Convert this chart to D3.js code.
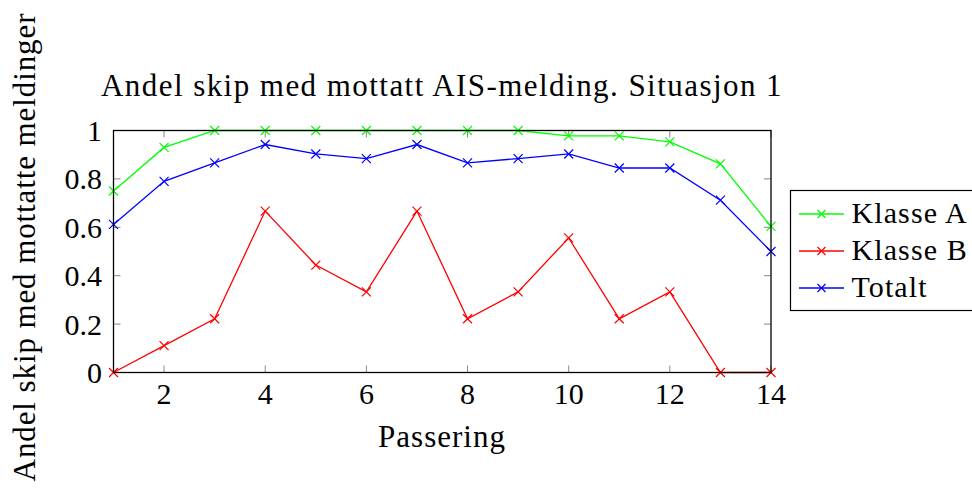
<!DOCTYPE html>
<html>
<head>
<meta charset="utf-8">
<script src="https://cdn.jsdelivr.net/npm/d3@7"></script>
<style>
  html, body { margin: 0; padding: 0; background: #fff; }
  svg { display: block; }
  text { font-family: "Liberation Serif", "DejaVu Serif", serif; fill: #000; }
</style>
</head>
<body>
<svg id="chart" width="972" height="496"></svg>
<script>
// Passering number on the x axis
const passering = [1, 2, 3, 4, 5, 6, 7, 8, 9, 10, 11, 12, 13, 14];
// Share of ships with received AIS message, per class
const klasseA = [0.75, 0.93, 1, 1, 1, 1, 1, 1, 1, 0.978, 0.978, 0.953, 0.862, 0.604];
const klasseB = [0, 0.111, 0.222, 0.667, 0.444, 0.333, 0.667, 0.222, 0.333, 0.556, 0.222, 0.333, 0, 0];
const totalt  = [0.612, 0.79, 0.866, 0.942, 0.903, 0.884, 0.942, 0.866, 0.884, 0.903, 0.845, 0.845, 0.712, 0.5];
const seriesNames = ["Klasse A", "Klasse B", "Totalt"];
const seriesColors = ["#00ff00", "#ff0000", "#0000ff"];
const xTicks = [2, 4, 6, 8, 10, 12, 14];
const yTicks = [0, 0.2, 0.4, 0.6, 0.8, 1];

const svg = d3.select("#chart");
const plot = { left: 113.5, right: 771, top: 130.5, bottom: 372.5 };

const x = d3.scaleLinear().domain([1, 14]).range([plot.left, plot.right]);
const y = d3.scaleLinear().domain([0, 1]).range([plot.bottom, plot.top]);

const tickLen = 7;
const tickColor = "#888";

// Tick marks on all four sides, pointing inwards
const g = svg.append("g");
xTicks.forEach(t => {
  g.append("line").attr("x1", x(t)).attr("x2", x(t))
    .attr("y1", plot.bottom).attr("y2", plot.bottom - tickLen)
    .attr("stroke", tickColor).attr("stroke-width", 1);
  g.append("line").attr("x1", x(t)).attr("x2", x(t))
    .attr("y1", plot.top).attr("y2", plot.top + tickLen)
    .attr("stroke", tickColor).attr("stroke-width", 1);
});
yTicks.forEach(t => {
  g.append("line").attr("x1", plot.left).attr("x2", plot.left + tickLen)
    .attr("y1", y(t)).attr("y2", y(t))
    .attr("stroke", tickColor).attr("stroke-width", 1);
  g.append("line").attr("x1", plot.right).attr("x2", plot.right - tickLen)
    .attr("y1", y(t)).attr("y2", y(t))
    .attr("stroke", tickColor).attr("stroke-width", 1);
});

// Tick labels
const fmtY = d => d === 0 || d === 1 ? String(d) : d.toFixed(1);
svg.append("g").selectAll("text").data(xTicks).join("text")
  .attr("x", d => x(d)).attr("y", plot.bottom + 31)
  .attr("text-anchor", "middle").attr("font-size", 30)
  .text(d => d);
svg.append("g").selectAll("text").data(yTicks).join("text")
  .attr("x", plot.left - 11.5).attr("y", d => y(d) + 10.5)
  .attr("text-anchor", "end").attr("font-size", 30)
  .text(fmtY);

// Series lines with cross markers
const allSeries = [klasseA, klasseB, totalt];
const line = d3.line().x((d, i) => x(passering[i])).y(d => y(d));
const cross = (sel, cx, cy, r, color) => {
  sel.append("path")
    .attr("d", `M${cx - r},${cy - r}L${cx + r},${cy + r}M${cx - r},${cy + r}L${cx + r},${cy - r}`)
    .attr("stroke", color).attr("stroke-width", 1.2).attr("fill", "none");
};
allSeries.forEach((vals, si) => {
  const sg = svg.append("g");
  sg.append("path").datum(vals).attr("d", line)
    .attr("fill", "none").attr("stroke", seriesColors[si]).attr("stroke-width", 1.3);
  vals.forEach((v, i) => cross(sg, x(passering[i]), y(v), 4.5, seriesColors[si]));
});

// Frame
svg.append("rect")
  .attr("x", plot.left).attr("y", plot.top)
  .attr("width", plot.right - plot.left).attr("height", plot.bottom - plot.top)
  .attr("fill", "none").attr("stroke", "#000").attr("stroke-width", 1.3);

// Title and axis labels
svg.append("text").attr("x", 442).attr("y", 96)
  .attr("text-anchor", "middle").attr("font-size", 31)
  .attr("letter-spacing", 1.45)
  .text("Andel skip med mottatt AIS-melding. Situasjon 1");
svg.append("text").attr("x", 442).attr("y", 446.5)
  .attr("text-anchor", "middle").attr("font-size", 31)
  .attr("letter-spacing", 1.0)
  .text("Passering");
svg.append("text")
  .attr("transform", "translate(35,247) rotate(-90)")
  .attr("text-anchor", "middle").attr("font-size", 31)
  .attr("letter-spacing", 0.9)
  .text("Andel skip med mottatte meldinger");

// Legend
const leg = svg.append("g");
leg.append("rect").attr("x", 790.5).attr("y", 190.5)
  .attr("width", 200).attr("height", 120)
  .attr("fill", "#fff").attr("stroke", "#000").attr("stroke-width", 1.2);
seriesNames.forEach((name, i) => {
  const ly = 214 + i * 37;
  leg.append("line").attr("x1", 799).attr("x2", 844).attr("y1", ly).attr("y2", ly)
    .attr("stroke", seriesColors[i]).attr("stroke-width", 1.3);
  cross(leg, 821.5, ly, 4, seriesColors[i]);
  leg.append("text").attr("x", 851.5).attr("y", ly + 8.5)
    .attr("font-size", 30).attr("letter-spacing", 1.1).text(name);
});
</script>
</body>
</html>
